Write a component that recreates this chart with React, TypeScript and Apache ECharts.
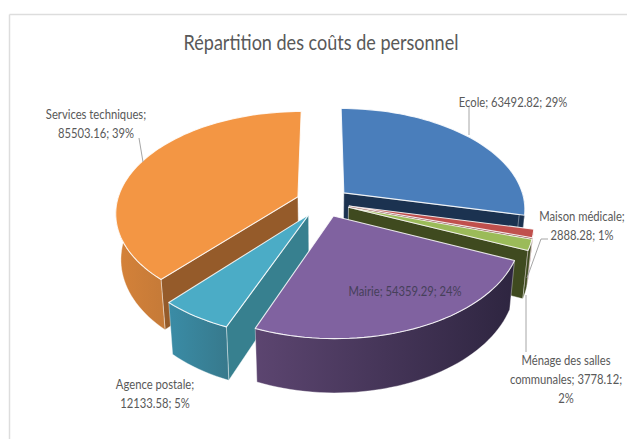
import React, { useEffect, useRef } from "react";
import * as echarts from "echarts";

const titleText = "Répartition des coûts de personnel";
const names = ["Ecole", "Maison médicale", "Ménage des salles communales", "Mairie", "Agence postale", "Services techniques"];
const values = [63492.82, 2888.28, 3778.12, 54359.29, 12133.58, 85503.16];
const percents = [29, 1, 2, 24, 5, 39];
const topColors = ["#4A7EBB", "#C0504D", "#9BBB59", "#8062A0", "#4BACC6", "#F39644"];
const faceColors = ["#1B3250", "#7A2F2D", "#3F4A1F", "#3A2A4A", "#37808F", "#955B2A"];
const wallColors: string[][] = [
  ["#1B3250", "#1B3250"],
  ["#7A2F2D", "#7A2F2D"],
  ["#3F4A1F", "#3F4A1F"],
  ["#5C4570", "#2E2540"],
  ["#3A8CA6", "#37798C"],
  ["#D58239", "#C57A38"],
];
// back-to-front painting order
const drawOrder = [0, 1, 2, 5, 4, 3];

const labelLines: string[][] = names.map((n, i) => {
  const v = values[i].toFixed(2);
  if (i === 1) return [`${n};`, `${v}; ${percents[i]}%`];
  if (i === 2) return ["Ménage des salles", `communales; ${v};`, `${percents[i]}%`];
  if (i === 4) return [`${n};`, `${v}; ${percents[i]}%`];
  if (i === 5) return [`${n};`, `${v}; ${percents[i]}%`];
  return [`${n}; ${v}; ${percents[i]}%`];
});
const labelAnchors = [
  [513, 102],
  [582, 225.5],
  [566, 379.5],
  [405, 291],
  [155, 394],
  [96, 124],
];
const leaderPaths = [
  [[469, 107], [469, 135]],
  [[548, 239], [541, 239], [527, 278]],
  [[526, 295], [526, 352]],
  [[139, 138], [143, 162]],
];

const FONT = "Lato, Roboto, sans-serif";
const TEXT = "#595959";
const CX = 323, CY = 202, R = 181, K = 0.55, P = 0.15, EXPLODE = 27, H = 45, SHRINK = 0.025;

const rad = (d: number) => (d * Math.PI) / 180;
const project = (X: number, Z: number, h: number) => {
  const s = 1 / (1 + (P * Z) / R);
  return [CX + X * s * (1 - (SHRINK * h) / H), CY - K * Z * s + h * s];
};

const total = values.reduce((a, b) => a + b, 0);

const renderSlice = (params: any, api: any) => {
  const i = drawOrder[params.dataIndex];
  let before = 0;
  for (let j = 0; j < i; j++) before += values[j];
  const a0 = (before / total) * 360;
  const a1 = ((before + api.value(0)) / total) * 360;
  const mid = (a0 + a1) / 2;
  const ax = EXPLODE * Math.sin(rad(mid));
  const az = EXPLODE * Math.cos(rad(mid));
  const rim = (t: number, h: number) => project(ax + R * Math.sin(rad(t)), az + R * Math.cos(rad(t)), h);
  const apex = (h: number) => project(ax, az, h);
  const steps = Math.max(2, Math.ceil((a1 - a0) / 2));
  const arc: number[] = [];
  for (let s = 0; s <= steps; s++) arc.push(a0 + ((a1 - a0) * s) / steps);

  const children: any[] = [];
  const edge = "rgba(255,255,255,0.75)";
  const face = (t: number) => ({
    type: "polygon",
    silent: true,
    shape: { points: [apex(0), rim(t, 0), rim(t, H), apex(H)] },
    style: { fill: faceColors[i], stroke: edge, lineWidth: 0.6 },
  });
  if (Math.cos(rad(a0 - 90)) < -0.01) children.push(face(a0));
  if (Math.cos(rad(a1 + 90)) < -0.01) children.push(face(a1));

  const wa = arc.filter((t) => t >= 88 && t <= 272);
  if (wa.length > 1) {
    const pts = [...wa.map((t) => rim(t, 0)), ...wa.slice().reverse().map((t) => rim(t, H))];
    children.push({
      type: "polygon",
      silent: true,
      shape: { points: pts },
      style: {
        fill: new echarts.graphic.LinearGradient(0, 0, 1, 0, [
          { offset: 0, color: wallColors[i][0] },
          { offset: 1, color: wallColors[i][1] },
        ]),
        stroke: edge,
        lineWidth: 0.5,
      },
    });
  }
  children.push({
    type: "polygon",
    silent: true,
    shape: { points: [apex(0), ...arc.map((t) => rim(t, 0))] },
    style: { fill: topColors[i], stroke: "rgba(255,255,255,0.85)", lineWidth: 1.1, lineJoin: "round" },
  });
  return { type: "group", children };
};

export default function App() {
  const ref = useRef<HTMLDivElement>(null);
  useEffect(() => {
    const chart = echarts.init(ref.current!, null, { renderer: "svg" });
    const graphics: any[] = [
      { type: "line", z: 50, shape: { x1: 9.5, y1: 14.5, x2: 627, y2: 14.5 }, style: { stroke: "#DDDDDD", lineWidth: 1.5 } },
      { type: "line", z: 50, shape: { x1: 9.5, y1: 14.5, x2: 9.5, y2: 439 }, style: { stroke: "#DDDDDD", lineWidth: 1.5 } },
      {
        type: "text",
        z: 101,
        x: 321,
        y: 42,
        scaleX: 0.88,
        style: {
          text: titleText,
          fill: TEXT,
          fontFamily: FONT,
          fontSize: 20.5,
          align: "center",
          verticalAlign: "middle",
        },
      },
      ...leaderPaths.map((p) => ({
        type: "polyline",
        z: 100,
        shape: { points: p },
        style: { stroke: "#A6A6A6", lineWidth: 1, fill: "none" },
      })),
      ...labelLines.map((lines, i) => ({
        type: "text",
        z: 101,
        x: labelAnchors[i][0],
        y: labelAnchors[i][1],
        scaleX: 0.9,
        style: {
          text: lines.join("\n"),
          fill: i === 3 ? "#46405A" : TEXT,
          fontFamily: FONT,
          fontSize: 12.5,
          lineHeight: 19,
          align: "center",
          verticalAlign: "middle",
        },
      })),
    ];
    chart.setOption({
      animation: false,
      backgroundColor: "#FFFFFF",
      graphic: graphics,
      series: [
        {
          type: "custom",
          coordinateSystem: "none",
          clip: false,
          silent: true,
          renderItem: renderSlice,
          data: drawOrder.map((i) => ({ name: names[i], value: values[i] })),
        },
      ],
    });
    return () => chart.dispose();
  }, []);
  return <div ref={ref} style={{ position: "fixed", left: 0, top: 0, width: 627, height: 439 }} />;
}
